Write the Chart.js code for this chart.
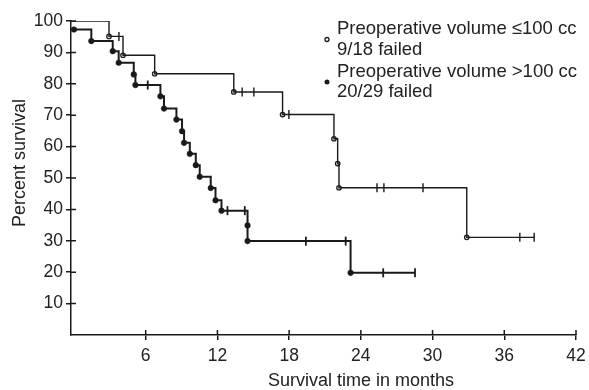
<!DOCTYPE html>
<html>
<head>
<meta charset="utf-8">
<script src="https://cdn.jsdelivr.net/npm/chart.js@4.4.0/dist/chart.umd.min.js"></script>
<style>
    html, body { margin: 0; padding: 0; background: #fff; }
    #wrap { width: 589px; height: 390px; }
</style>
</head>
<body>
<div id="wrap"><canvas id="chart"></canvas></div>
<script>
// axis ticks
const xTickValues = [6, 12, 18, 24, 30, 36, 42];
const yTickValues = [10, 20, 30, 40, 50, 60, 70, 80, 90, 100];
const xMin = -0.25;

// Preoperative volume <=100 cc (open circles)
const smallStart = 100;
const smallTimes = [2.93, 4.1, 6.75, 13.37, 17.45, 21.75, 22.06, 22.17, 32.86];
const smallSurv = [95.1, 89.1, 83.2, 77.4, 70.2, 62.5, 54.6, 46.9, 31.1];
const smallCensored = [3.76, 14.07, 15.05, 17.98, 25.35, 25.93, 29.2, 37.3, 38.5];

// Preoperative volume >100 cc (filled dots)
const largeStart = 97.3;
const largeTimes = [0, 1.45, 3.24, 3.74, 5.0, 5.14, 7.23, 7.53, 8.57, 9.04, 9.21, 9.69, 10.19, 10.52, 11.44, 11.84, 12.34, 14.52, 14.52, 23.14];
const largeSurv = [97.3, 93.6, 90.4, 86.7, 83.0, 79.6, 76.0, 72.1, 68.6, 64.9, 61.2, 57.7, 54.1, 50.4, 46.8, 42.9, 39.6, 34.9, 29.9, 19.8];
const largeCensored = [6.17, 12.84, 14.29, 19.4, 22.73, 25.87, 28.53];

const legendLines = [
    ['Preoperative volume \u2264100 cc', '9/18 failed'],
    ['Preoperative volume >100 cc', '20/29 failed']
];

const ink = '#1a1a1a';
const FONT = '"Liberation Sans", Arial, Helvetica, sans-serif';

function survivalAt(times, surv, start, t) {
    let s = start;
    for (let i = 0; i < times.length; i++) {
        if (times[i] <= t) s = surv[i];
    }
    return s;
}

function stepLine(times, surv, start, censored) {
    const pts = [{ x: xMin, y: start }];
    times.forEach((t, i) => pts.push({ x: t, y: surv[i] }));
    const last = censored[censored.length - 1];
    pts.push({ x: last, y: survivalAt(times, surv, start, last) });
    return pts;
}

function eventPoints(times, surv) {
    return times.map((t, i) => ({ x: t, y: surv[i] }));
}

function censorPoints(times, surv, start, censored) {
    return censored.map(t => ({ x: t, y: survivalAt(times, surv, start, t) }));
}

// tick marks that cross the axis lines, inner halves
const innerTicks = {
    id: 'innerTicks',
    afterDraw(chart) {
        const { ctx, scales: { x, y } } = chart;
        ctx.save();
        ctx.strokeStyle = ink;
        ctx.lineWidth = 1.5;
        ctx.beginPath();
        for (const v of yTickValues) {
            const py = y.getPixelForValue(v);
            ctx.moveTo(x.left, py);
            ctx.lineTo(x.left + 5, py);
        }
        for (const v of xTickValues) {
            const px = x.getPixelForValue(v);
            ctx.moveTo(px, y.bottom);
            ctx.lineTo(px, y.bottom - 5);
        }
        ctx.stroke();
        ctx.restore();
    }
};

const legendBox = {
    id: 'legendBox',
    afterDraw(chart) {
        const { ctx } = chart;
        ctx.save();
        ctx.font = '18.5px ' + FONT;
        ctx.fillStyle = '#222';
        ctx.textBaseline = 'middle';
        const rows = [[29, 50], [72, 92]];
        legendLines.forEach((lines, k) => {
            lines.forEach((txt, j) => ctx.fillText(txt, 337, rows[k][j]));
            const my = (rows[k][0] + rows[k][1]) / 2;
            ctx.beginPath();
            ctx.arc(327, my, k === 0 ? 2 : 2.5, 0, Math.PI * 2);
            ctx.lineWidth = 1.3;
            ctx.strokeStyle = ink;
            if (k === 0) {
                ctx.fillStyle = '#fff';
                ctx.fill();
                ctx.stroke();
            } else {
                ctx.fillStyle = ink;
                ctx.fill();
            }
            ctx.fillStyle = '#222';
        });
        ctx.restore();
    }
};

new Chart(document.getElementById('chart'), {
    type: 'scatter',
    data: {
        datasets: [
            {
                label: 'small line',
                type: 'line',
                data: stepLine(smallTimes, smallSurv, smallStart, smallCensored),
                stepped: true,
                borderColor: ink,
                borderWidth: 1.4,
                pointRadius: 0,
                fill: false
            },
            {
                label: 'large line',
                type: 'line',
                data: stepLine(largeTimes, largeSurv, largeStart, largeCensored),
                stepped: true,
                borderColor: ink,
                borderWidth: 2,
                pointRadius: 0,
                fill: false
            },
            {
                label: 'small censored',
                data: censorPoints(smallTimes, smallSurv, smallStart, smallCensored),
                pointStyle: 'line',
                rotation: 90,
                radius: 4.5,
                borderColor: ink,
                borderWidth: 1.4
            },
            {
                label: 'large censored',
                data: censorPoints(largeTimes, largeSurv, largeStart, largeCensored),
                pointStyle: 'line',
                rotation: 90,
                radius: 4.5,
                borderColor: ink,
                borderWidth: 1.8
            },
            {
                label: 'small failed',
                data: eventPoints(smallTimes, smallSurv),
                pointStyle: 'circle',
                radius: 2.2,
                backgroundColor: '#fff',
                borderColor: ink,
                borderWidth: 1.3
            },
            {
                label: 'large failed',
                data: eventPoints(largeTimes, largeSurv),
                pointStyle: 'circle',
                radius: 2.8,
                backgroundColor: ink,
                borderColor: ink,
                borderWidth: 0.5
            }
        ]
    },
    options: {
        responsive: true,
        maintainAspectRatio: false,
        animation: false,
        layout: { padding: { left: 0, right: 13, top: 21, bottom: 0 } },
        plugins: {
            legend: { display: false },
            tooltip: { enabled: false }
        },
        scales: {
            x: {
                type: 'linear',
                min: xMin,
                max: 42,
                afterBuildTicks: scale => { scale.ticks = xTickValues.map(v => ({ value: v })); },
                afterFit: scale => {
                    scale.height = 55;
                    scale.paddingLeft = 0;
                    scale.paddingRight = 0;
                },
                grid: { drawOnChartArea: false, drawTicks: true, tickLength: 5, color: ink, lineWidth: 1.5 },
                border: { display: true, color: ink, width: 1.5 },
                ticks: { color: '#222', font: { family: FONT, size: 17.5 }, padding: 6, maxRotation: 0 },
                title: {
                    display: true,
                    // leading spaces push the title right, as in the original figure
                    text: '               Survival time in months',
                    color: '#222',
                    font: { family: FONT, size: 18, lineHeight: 1 },
                    padding: { top: 0, bottom: 0 }
                }
            },
            y: {
                min: 0,
                max: 100,
                afterBuildTicks: scale => { scale.ticks = yTickValues.map(v => ({ value: v })); },
                afterFit: scale => { scale.width = 71; },
                grid: { drawOnChartArea: false, drawTicks: true, tickLength: 5, color: ink, lineWidth: 1.5 },
                border: { display: true, color: ink, width: 1.5 },
                ticks: { color: '#222', font: { family: FONT, size: 17.5 }, padding: 3 },
                title: {
                    display: true,
                    text: '      Percent survival',
                    color: '#222',
                    font: { family: FONT, size: 18, lineHeight: 1.2 },
                    padding: { top: 9, bottom: 0 }
                }
            }
        }
    },
    plugins: [innerTicks, legendBox]
});
</script>
</body>
</html>
